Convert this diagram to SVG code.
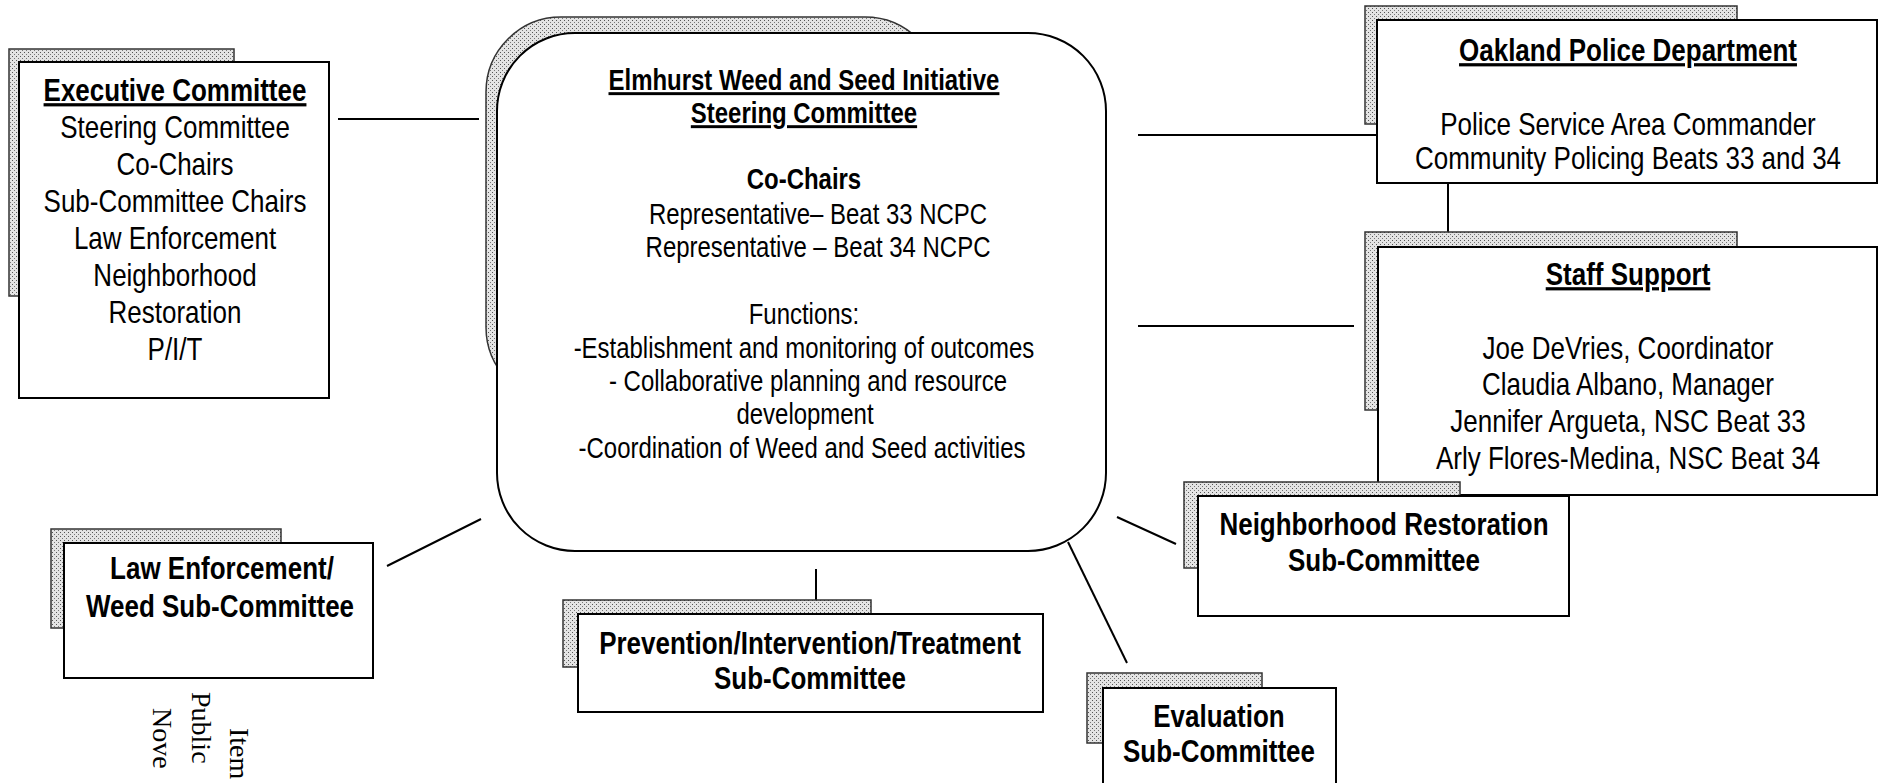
<svg xmlns="http://www.w3.org/2000/svg" width="1879" height="783" viewBox="0 0 1879 783">
<defs>
<pattern id="ht" width="4" height="4" patternUnits="userSpaceOnUse">
<rect width="4" height="4" fill="#e4e4e4"/>
<rect x="0" y="0" width="1" height="1" fill="#555"/>
<rect x="2" y="2" width="1" height="1" fill="#777"/>
</pattern>
</defs>
<style>
.sh{fill:url(#ht);stroke:#333;stroke-width:1.5}
.bx{fill:#fff;stroke:#000;stroke-width:2}
.t{font-family:"Liberation Sans",Arial,sans-serif;font-size:32px;fill:#000;text-anchor:middle}
.b{font-weight:bold}
.u{text-decoration:underline}
.c{font-size:29.5px}
.ln{stroke:#000;stroke-width:2;fill:none}
.v{font-family:"Liberation Serif","Times New Roman",serif;font-size:28px;fill:#000}
</style>
<rect width="1879" height="783" fill="#fff"/>

<g id="connectors">
<line class="ln" x1="338" y1="119" x2="479" y2="119"/>
<line class="ln" x1="1138" y1="135" x2="1377" y2="135"/>
<line class="ln" x1="1138" y1="326" x2="1354" y2="326"/>
<line class="ln" x1="1448" y1="183" x2="1448" y2="232"/>
<line class="ln" x1="387" y1="566" x2="481" y2="519"/>
<line class="ln" x1="816" y1="569" x2="816" y2="612"/>
<line class="ln" x1="1117" y1="517" x2="1176" y2="544"/>
<line class="ln" x1="1068" y1="542" x2="1127" y2="663"/>
</g>

<g id="executive-committee">
<rect class="sh" x="9" y="49" width="225" height="247"/>
<rect class="bx" x="19" y="62" width="310" height="336"/>
<g transform="scale(0.8125,1)">
<text class="t b u" x="215.4" y="101">Executive Committee</text>
<text class="t" x="215.4" y="138">Steering Committee</text>
<text class="t" x="215.4" y="175">Co-Chairs</text>
<text class="t" x="215.4" y="212">Sub-Committee Chairs</text>
<text class="t" x="215.4" y="249">Law Enforcement</text>
<text class="t" x="215.4" y="286">Neighborhood</text>
<text class="t" x="215.4" y="323">Restoration</text>
<text class="t" x="215.4" y="360">P/I/T</text>
</g>
</g>

<g id="steering-committee">
<rect class="sh" x="486" y="17" width="454" height="385" rx="75"/>
<rect class="bx" x="497" y="33" width="609" height="518" rx="78"/>
<g transform="scale(0.8125,1)">
<text class="t c b u" x="989.5" y="90">Elmhurst Weed and Seed Initiative</text>
<text class="t c b u" x="989.5" y="123">Steering Committee</text>
<text class="t c b" x="989.5" y="189">Co-Chairs</text>
<text class="t c" x="1006.8" y="224">Representative– Beat 33 NCPC</text>
<text class="t c" x="1006.8" y="257">Representative – Beat 34 NCPC</text>
<text class="t c" x="989.5" y="324">Functions:</text>
<text class="t c" x="989.5" y="358">-Establishment and monitoring of outcomes</text>
<text class="t c" x="994.5" y="391">- Collaborative planning and resource</text>
<text class="t c" x="990.8" y="424">development</text>
<text class="t c" x="987.1" y="458">-Coordination of Weed and Seed activities</text>
</g>
</g>

<g id="oakland-police">
<rect class="sh" x="1365" y="6" width="372" height="118"/>
<rect class="bx" x="1377" y="20" width="500" height="163"/>
<g transform="scale(0.8125,1)">
<text class="t b u" x="2003.7" y="61">Oakland Police Department</text>
<text class="t" x="2003.7" y="135">Police Service Area Commander</text>
<text class="t" x="2003.7" y="169">Community Policing Beats 33 and 34</text>
</g>
</g>

<g id="staff-support">
<rect class="sh" x="1365" y="232" width="372" height="178"/>
<rect class="bx" x="1378" y="247" width="499" height="248"/>
<g transform="scale(0.8125,1)">
<text class="t b u" x="2003.7" y="285">Staff Support</text>
<text class="t" x="2003.7" y="359">Joe DeVries, Coordinator</text>
<text class="t" x="2003.7" y="395">Claudia Albano, Manager</text>
<text class="t" x="2003.7" y="432">Jennifer Argueta, NSC Beat 33</text>
<text class="t" x="2003.7" y="469">Arly Flores-Medina, NSC Beat 34</text>
</g>
</g>

<g id="neighborhood-restoration">
<rect class="sh" x="1184" y="482" width="276" height="86"/>
<rect class="bx" x="1198" y="496" width="371" height="120"/>
<g transform="scale(0.8125,1)">
<text class="t b" x="1703.4" y="535">Neighborhood Restoration</text>
<text class="t b" x="1703.4" y="571">Sub-Committee</text>
</g>
</g>

<g id="law-enforcement">
<rect class="sh" x="51" y="529" width="230" height="99"/>
<rect class="bx" x="64" y="543" width="309" height="135"/>
<g transform="scale(0.8125,1)">
<text class="t b" x="273.2" y="579">Law Enforcement/</text>
<text class="t b" x="270.8" y="617">Weed Sub-Committee</text>
</g>
</g>

<g id="pit">
<rect class="sh" x="563" y="600" width="308" height="67"/>
<rect class="bx" x="578" y="614" width="465" height="98"/>
<g transform="scale(0.8125,1)">
<text class="t b" x="996.9" y="654">Prevention/Intervention/Treatment</text>
<text class="t b" x="996.9" y="689">Sub-Committee</text>
</g>
</g>

<g id="evaluation">
<rect class="sh" x="1087" y="673" width="175" height="70"/>
<rect class="bx" x="1103" y="688" width="233" height="110"/>
<g transform="scale(0.8125,1)">
<text class="t b" x="1500.3" y="727">Evaluation</text>
<text class="t b" x="1500.3" y="762">Sub-Committee</text>
</g>
</g>

<g id="side-note">
<text class="v" transform="translate(230,728) rotate(90)">Item</text>
<text class="v" transform="translate(192,692) rotate(90)">Public</text>
<text class="v" transform="translate(153,708) rotate(90)">Nove</text>
</g>
</svg>
